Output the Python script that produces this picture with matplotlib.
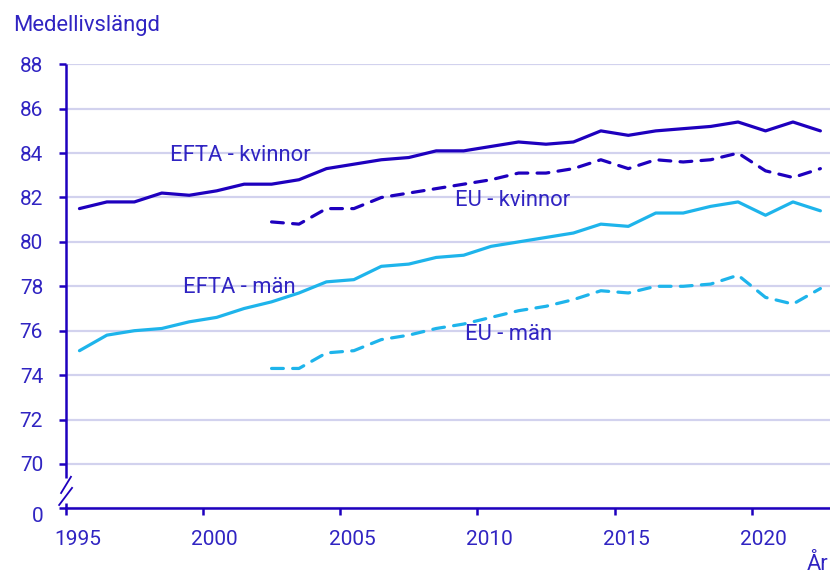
import matplotlib
matplotlib.use('Agg')
import matplotlib.pyplot as plt
import numpy as np
from matplotlib.transforms import ScaledTranslation

plt.rcParams['font.family'] = ['Roboto', 'DejaVu Sans']

# ---- data ----
years = list(range(1995, 2023))
efta_kvinnor = [81.5, 81.8, 81.8, 82.2, 82.1, 82.3, 82.6, 82.6, 82.8, 83.3,
                83.5, 83.7, 83.8, 84.1, 84.1, 84.3, 84.5, 84.4, 84.5, 85.0,
                84.8, 85.0, 85.1, 85.2, 85.4, 85.0, 85.4, 85.0]
efta_man = [75.1, 75.8, 76.0, 76.1, 76.4, 76.6, 77.0, 77.3, 77.7, 78.2,
            78.3, 78.9, 79.0, 79.3, 79.4, 79.8, 80.0, 80.2, 80.4, 80.8,
            80.7, 81.3, 81.3, 81.6, 81.8, 81.2, 81.8, 81.4]
eu_years = list(range(2002, 2023))
eu_kvinnor = [80.9, 80.8, 81.5, 81.5, 82.0, 82.2, 82.4, 82.6, 82.8, 83.1,
              83.1, 83.3, 83.7, 83.3, 83.7, 83.6, 83.7, 84.0, 83.2, 82.9, 83.3]
eu_man = [74.3, 74.3, 75.0, 75.1, 75.6, 75.8, 76.1, 76.3, 76.6, 76.9,
          77.1, 77.4, 77.8, 77.7, 78.0, 78.0, 78.1, 78.5, 77.5, 77.2, 77.9]
ytick_values = [68, 70, 72, 74, 76, 78, 80, 82, 84, 86, 88]
ytick_labels = ['0', '70', '72', '74', '76', '78', '80', '82', '84', '86', '88']
xtick_years = [1995, 2000, 2005, 2010, 2015, 2020]
series_labels = ['EFTA - kvinnor', 'EU - kvinnor', 'EFTA - män', 'EU - män']

DARK = '#1E00BE'
LIGHT = '#1EB4EB'
TEXT = '#3024C2'
GRID = '#D2D2EE'

fig = plt.figure(figsize=(8.3, 5.76), dpi=100)
ax = fig.add_axes([0.0792, 0.1175, 1 - 0.0792, 0.8884 - 0.1175])

xc = np.array(years) + 0.5
xe = np.array(eu_years) + 0.5
lw = 2.3
ax.plot(xc, efta_man, color=LIGHT, lw=lw, solid_capstyle='round', solid_joinstyle='round')
ax.plot(xe, eu_man, color=LIGHT, lw=lw, dashes=(3.7, 2.9), dash_capstyle='round', dash_joinstyle='round')
ax.plot(xc, efta_kvinnor, color=DARK, lw=lw, solid_capstyle='round', solid_joinstyle='round')
ax.plot(xe, eu_kvinnor, color=DARK, lw=lw, dashes=(3.7, 2.9), dash_capstyle='round', dash_joinstyle='round')

ax.set_xlim(1995, 2022.85)
ax.set_ylim(68, 88)

# grid
ax.set_yticks(ytick_values)
ax.set_yticklabels(ytick_labels)
ax.yaxis.grid(True, color=GRID, lw=1.6)
ax.set_axisbelow(True)

for s in ['top', 'right', 'left']:
    ax.spines[s].set_visible(False)
ax.spines['bottom'].set_color(DARK)
ax.spines['bottom'].set_linewidth(1.8)
ax.spines['bottom'].set_zorder(5)

ax.tick_params(axis='y', length=5.3, width=1.8, color=DARK, pad=11,
               labelsize=15, labelcolor=TEXT)
ax.set_xticks([y + 0.43 for y in xtick_years])
ax.set_xticklabels([str(y) for y in xtick_years])
ax.set_xticks(xtick_years, minor=True)
ax.tick_params(axis='x', which='major', length=0, pad=15.5, labelsize=15, labelcolor=TEXT)
ax.tick_params(axis='x', which='minor', length=5.3, width=1.8, color=DARK)

# shift "0" label slightly down
lab0 = ax.get_yticklabels()[0]
lab0.set_transform(lab0.get_transform() + ScaledTranslation(0, -6 / 100, fig.dpi_scale_trans))

# custom broken y-axis line
ax.plot([1995, 1995], [69.38, 88], color=DARK, lw=1.8, clip_on=False, zorder=6, solid_capstyle='butt')
ax.plot([1995, 1995], [68, 68.26], color=DARK, lw=1.8, clip_on=False, zorder=6, solid_capstyle='butt')
ax.plot([1994.83, 1995.19], [68.69, 69.42], color=DARK, lw=1.3, clip_on=False, zorder=6)
ax.plot([1994.76, 1995.23], [68.15, 68.92], color=DARK, lw=1.3, clip_on=False, zorder=6)

# series labels
lab_pos = [(1998.80, 83.9), (2009.19, 81.87), (1999.27, 77.94), (2009.55, 75.82)]
for txt, (x, y) in zip(series_labels, lab_pos):
    ax.text(x, y, txt, color=TEXT, fontsize=15.8, ha='left', va='center')

fig.text(13 / 830, 1 - 25 / 576, 'Medellivslängd', color=TEXT, fontsize=15.8,
         ha='left', va='center')
fig.text(828 / 830, 1 - 564 / 576, 'År', color=TEXT, fontsize=15.8,
         ha='right', va='center')

fig.savefig('out.png', dpi=100)
